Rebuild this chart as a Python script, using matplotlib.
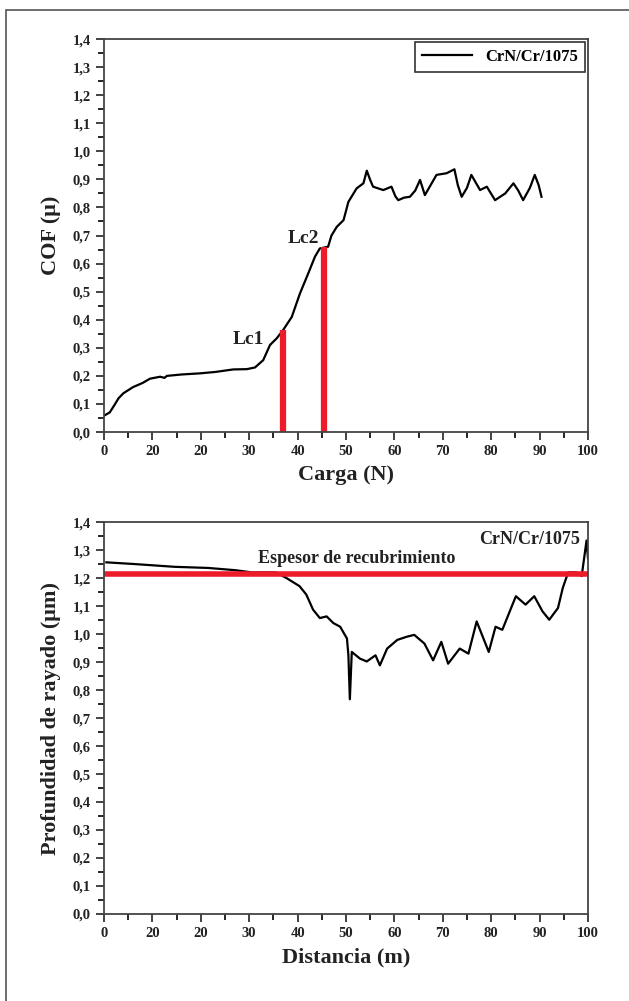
import matplotlib
matplotlib.use('Agg')
from matplotlib import pyplot as plt
from matplotlib.patches import Rectangle
import numpy as np

plt.rcParams['font.family'] = ['Liberation Serif', 'DejaVu Serif']
plt.rcParams['font.weight'] = 'bold'

# --- data: COF vs load ---
carga = [0.2, 1.2, 2.3, 3.0, 4.0, 6.0, 8.0, 9.5, 11.6, 12.5, 13.0, 16.0, 19.8, 23.0,
         26.7, 29.5, 31.2, 32.9, 34.3, 35.7, 37.0, 38.8, 40.5, 42.2, 43.6, 44.6, 46.3,
         47.0, 48.1, 49.5, 50.5, 52.2, 53.6, 54.3, 55.0, 55.6, 57.7, 59.4, 60.2, 60.8,
         62.0, 63.2, 64.3, 65.3, 66.3, 67.5, 68.7, 70.8, 72.4, 73.1, 73.9, 75.0, 75.9,
         77.7, 79.1, 80.8, 82.9, 84.6, 85.6, 86.6, 88.0, 89.0, 89.8, 90.4]
cof = [0.06, 0.07, 0.10, 0.12, 0.138, 0.16, 0.175, 0.19, 0.197, 0.193, 0.20, 0.205,
       0.209, 0.214, 0.223, 0.224, 0.23, 0.256, 0.31, 0.334, 0.363, 0.41, 0.494, 0.565,
       0.625, 0.654, 0.66, 0.70, 0.731, 0.755, 0.82, 0.868, 0.886, 0.931, 0.898, 0.874,
       0.862, 0.874, 0.84, 0.826, 0.835, 0.838, 0.86, 0.898, 0.844, 0.88, 0.916, 0.922,
       0.936, 0.88, 0.838, 0.87, 0.916, 0.862, 0.874, 0.826, 0.85, 0.886, 0.86, 0.826,
       0.87, 0.916, 0.88, 0.838]
lc_x = [37.0, 45.5]
lc_y = [0.363, 0.66]
lc_names = ['Lc1', 'Lc2']

# --- data: scratch depth vs distance ---
distancia = [0.5, 6.2, 14.6, 21.5, 27.1, 30.6, 35.5, 37.6, 40.4, 41.8, 43.2, 44.6, 46.0,
             47.4, 48.8, 50.2, 50.5, 50.8, 51.2, 52.9, 54.3, 56.1, 57.0, 58.5, 60.6,
             62.5, 64.1, 66.2, 68.0, 69.7, 71.1, 73.5, 75.3, 77.0, 79.5, 80.9, 82.3,
             85.1, 87.1, 88.9, 90.6, 92.0, 93.8, 94.8, 95.9, 97.6, 98.7, 99.7, 100.0]
profundidad = [1.256, 1.25, 1.24, 1.236, 1.228, 1.22, 1.22, 1.201, 1.171, 1.141, 1.087,
               1.057, 1.063, 1.039, 1.026, 0.984, 0.924, 0.767, 0.936, 0.912, 0.902,
               0.924, 0.888, 0.948, 0.979, 0.99, 0.997, 0.966, 0.906, 0.972, 0.894,
               0.948, 0.93, 1.045, 0.936, 1.026, 1.015, 1.135, 1.105, 1.135, 1.081,
               1.051, 1.093, 1.165, 1.22, 1.22, 1.207, 1.334, 1.27]
espesor = 1.214

xtick_vals = list(range(0, 101, 10))
xtick_labels = ['0', '20', '20', '30', '40', '50', '60', '70', '80', '90', '100']
ytick_vals = np.round(np.arange(0, 1.41, 0.1), 1)
ytick_labels = [f"{v:.1f}".replace('.', ',') for v in ytick_vals]

RED = '#ec1c2b'

fig = plt.figure(figsize=(6.29, 10.01), dpi=100)
fig.patches.append(Rectangle((6 / 629, -0.1), 1.2, 1 - 10 / 1001 + 0.1,
                             transform=fig.transFigure, fill=False,
                             edgecolor='#555555', linewidth=1.2))

ax1 = fig.add_axes([0.1653, 0.5684, 0.7695, 0.3926])
ax2 = fig.add_axes([0.1653, 0.0869, 0.7695, 0.3916])


def style_axis(ax, xlabel, ylabel):
    ax.set_xlim(0, 100)
    ax.set_ylim(0, 1.4)
    ax.set_xticks(xtick_vals, xtick_labels)
    ax.set_xticks(range(5, 100, 10), minor=True)
    ax.set_yticks(ytick_vals, ytick_labels)
    ax.set_yticks(np.arange(0.05, 1.4, 0.1), minor=True)
    ax.tick_params(which='major', direction='out', length=6, width=1.2,
                   labelsize=10.5, colors='#222222')
    ax.tick_params(which='minor', direction='out', length=4, width=1.2)
    for s in ax.spines.values():
        s.set_linewidth(1.3)
        s.set_color('#444444')
    for lab in ax.get_xticklabels() + ax.get_yticklabels():
        lab.set_fontweight('bold')
    ax.set_xlabel(xlabel, fontsize=16, fontweight='bold', color='#222222', labelpad=5)
    ax.set_ylabel(ylabel, fontsize=16, fontweight='bold', color='#222222', labelpad=8)


# top chart
ax1.plot(carga, cof, color='black', linewidth=1.6, label='CrN/Cr/1075')
ax1.vlines(lc_x, 0, lc_y, colors=RED, linewidth=4.5)
ax1.text(29.8, 0.328, lc_names[0], fontsize=14, fontweight='bold', ha='center',
         va='center', color='#222222')
ax1.text(41.3, 0.69, lc_names[1], fontsize=14, fontweight='bold', ha='center',
         va='center', color='#222222')
leg = ax1.legend(loc='upper right', frameon=True, fancybox=False, handlelength=3,
                 borderaxespad=0.2, prop={'weight': 'bold', 'size': 12})
leg.get_frame().set_edgecolor('black')
leg.get_frame().set_linewidth(1.2)
style_axis(ax1, 'Carga (N)', 'COF (μ)')

# bottom chart
ax2.plot(distancia, profundidad, color='black', linewidth=1.6)
ax2.axhline(espesor, color=RED, linewidth=4)
ax2.text(52.3, 1.27, 'Espesor de recubrimiento', fontsize=13, fontweight='bold',
         ha='center', va='center', color='#222222')
ax2.text(98.3, 1.336, 'CrN/Cr/1075', fontsize=13, fontweight='bold',
         ha='right', va='center', color='#222222')
style_axis(ax2, 'Distancia (m)', 'Profundidad de rayado (μm)')

fig.savefig('out.png', dpi=100)
